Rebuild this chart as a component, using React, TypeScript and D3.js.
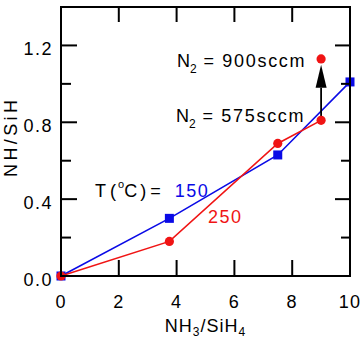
import React from "react";
import * as d3 from "d3";

const blueX = [0, 3.75, 7.5, 10];
const blueY = [0, 0.3, 0.63, 1.01];
const redX = [0, 3.75, 7.5, 9];
const redY = [0, 0.18, 0.69, 0.81];
const redExtraX = [9];
const redExtraY = [1.13];
const arrowX = 9;
const arrowFrom = 0.81;
const arrowTo = 1.1;
const xTicks = [0, 2, 4, 6, 8, 10];
const xInnerTicks = [2, 4, 6, 8];
const yMajor = [0, 0.4, 0.8, 1.2];
const yMinor = [0.2, 0.6, 1.0];

const W = 361;
const H = 345;
const M = { left: 61, right: 11, top: 7, bottom: 69 };
const FONT = "'Liberation Sans', Arial, sans-serif";
const BLUE = "#0a0ae6";
const RED = "#f01414";

export default function App() {
  const x = d3.scaleLinear().domain([0, 10]).range([M.left, W - M.right]);
  const y = d3.scaleLinear().domain([0, 1.4]).range([H - M.bottom, M.top]);
  const line = d3
    .line<[number, number]>()
    .x((d) => x(d[0]))
    .y((d) => y(d[1]));
  const blue: [number, number][] = blueX.map((v, i) => [v, blueY[i]]);
  const red: [number, number][] = redX.map((v, i) => [v, redY[i]]);
  const x0 = x(0), x1 = x(10), y0 = y(0), y1 = y(1.4);
  const ax = x(arrowX);
  const tipY = y(arrowTo);
  const baseY = tipY + 23;
  return (
    <svg width={W} height={H} style={{ position: "absolute", left: 0, top: 0, background: "#fff" }} fontFamily={FONT}>
      {/* series */}
      <path d={line(blue)!} fill="none" stroke={BLUE} strokeWidth={1.6} />
      {blue.map((d, i) => (
        <rect key={"b" + i} x={x(d[0]) - 4.5} y={y(d[1]) - 4.5} width={9} height={9} fill={BLUE} />
      ))}
      <path d={line(red)!} fill="none" stroke={RED} strokeWidth={1.6} />
      {/* arrow */}
      <line x1={ax} x2={ax} y1={y(arrowFrom)} y2={baseY} stroke="#000" strokeWidth={1.8} />
      <path d={`M${ax},${tipY}L${ax - 5.5},${baseY}L${ax + 5.5},${baseY}Z`} fill="#000" />
      {red.map((d, i) => (
        <circle key={"r" + i} cx={x(d[0])} cy={y(d[1])} r={4.6} fill={RED} />
      ))}
      {redExtraX.map((v, i) => (
        <circle key={"re" + i} cx={x(v)} cy={y(redExtraY[i])} r={4.6} fill={RED} />
      ))}
      {/* frame */}
      <rect x={x0} y={y1} width={x1 - x0} height={y0 - y1} fill="none" stroke="#000" strokeWidth={2} />
      {/* x ticks */}
      {xInnerTicks.map((t) => (
        <g key={"xt" + t}>
          <line x1={x(t)} x2={x(t)} y1={y0} y2={y0 - 16} stroke="#000" strokeWidth={2} />
          <line x1={x(t)} x2={x(t)} y1={y1} y2={y1 + 15} stroke="#000" strokeWidth={2} />
        </g>
      ))}
      {xTicks.map((t) => (
        <text key={"xl" + t} x={x(t)} y={y0 + 32} textAnchor="middle" fontSize={18} letterSpacing={1.2}>
          {t}
        </text>
      ))}
      {/* y ticks */}
      {yMajor.map((t) => (
        <g key={"ym" + t}>
          <line x1={x0} x2={x0 + 16} y1={y(t)} y2={y(t)} stroke="#000" strokeWidth={2} />
          <line x1={x1} x2={x1 - 15} y1={y(t)} y2={y(t)} stroke="#000" strokeWidth={2} />
          <text x={53} y={y(t) + 9.5} textAnchor="end" fontSize={18} letterSpacing={1.5}>
            {d3.format(".1f")(t)}
          </text>
        </g>
      ))}
      {yMinor.map((t) => (
        <g key={"yn" + t}>
          <line x1={x0} x2={x0 + 10} y1={y(t)} y2={y(t)} stroke="#000" strokeWidth={2} />
          <line x1={x1} x2={x1 - 9} y1={y(t)} y2={y(t)} stroke="#000" strokeWidth={2} />
        </g>
      ))}
      {/* axis titles */}
      <text x={(x0 + x1) / 2} y={331.7} textAnchor="middle" fontSize={18} letterSpacing={1}>
        <tspan>NH</tspan>
        <tspan fontSize={12} dy={4}>3</tspan>
        <tspan dy={-4}>/SiH</tspan>
        <tspan fontSize={12} dy={4}>4</tspan>
      </text>
      <text
        transform={`translate(17,138.5) rotate(-90)`}
        textAnchor="middle"
        fontSize={18}
        textLength={77}
        lengthAdjust="spacing"
      >
        NH/SiH
      </text>
      {/* annotations */}
      <text x={177} y={67.3} fontSize={18}>
        <tspan>N</tspan>
        <tspan fontSize={12} dy={6}>2</tspan>
        <tspan dy={-6} letterSpacing={1.7}>{" = 900sccm"}</tspan>
      </text>
      <text x={176} y={121.7} fontSize={18}>
        <tspan>N</tspan>
        <tspan fontSize={12} dy={6}>2</tspan>
        <tspan dy={-6} letterSpacing={1.7}>{" = 575sccm"}</tspan>
      </text>
      <text x={95} y={196.7} fontSize={18}>
        <tspan>T</tspan>
        <tspan dx={4}>(</tspan>
        <tspan fontSize={11} dx={2} dy={-9}>o</tspan>
        <tspan dy={9}>C</tspan>
        <tspan dx={3}>)</tspan>
        <tspan dx={4}>=</tspan>
        <tspan dx={14} fill={BLUE} letterSpacing={1.5}>150</tspan>
      </text>
      <text x={208} y={223.3} fontSize={18} fill={RED} letterSpacing={1.5}>
        250
      </text>
    </svg>
  );
}
